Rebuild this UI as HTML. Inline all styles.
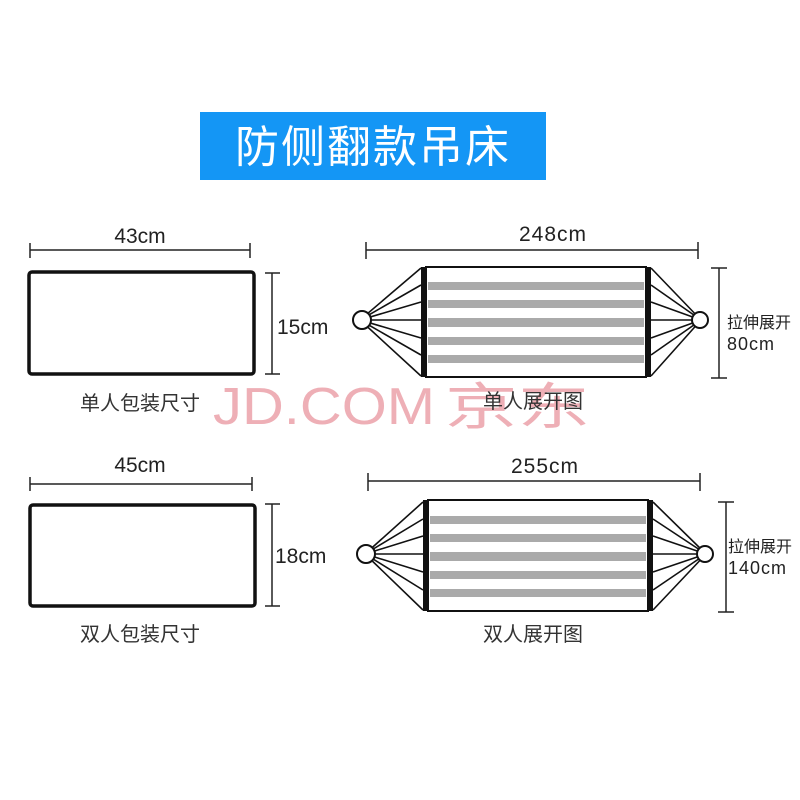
<!DOCTYPE html>
<html><head><meta charset="utf-8"><style>
html,body{margin:0;padding:0;background:#fff}
svg{display:block}
text{font-family:"Liberation Sans","Noto Sans CJK SC",sans-serif}
</style></head><body>
<svg width="800" height="800" viewBox="0 0 800 800" xmlns="http://www.w3.org/2000/svg">
<rect x="200" y="112" width="346" height="68" fill="#1496f5"/>
<text x="373" y="162" font-size="44" fill="#fff" text-anchor="middle" font-family="Noto Sans CJK SC,sans-serif" letter-spacing="2">防侧翻款吊床</text>

<!-- watermark -->
<g fill="#eca6ae" fill-opacity="0.9">
<text x="213" y="424" font-size="52" textLength="222" lengthAdjust="spacingAndGlyphs">JD.COM</text>
<text x="445" y="424" font-size="50" font-family="Noto Sans CJK SC,sans-serif" textLength="145" lengthAdjust="spacingAndGlyphs">京东</text>
</g>

<g stroke="#222" stroke-width="1.5" fill="none">
<line x1="30" y1="250" x2="250" y2="250"/><line x1="30" y1="243" x2="30" y2="258"/><line x1="250" y1="243" x2="250" y2="258"/>
<line x1="272" y1="273" x2="272" y2="374"/><line x1="265" y1="273" x2="280" y2="273"/><line x1="265" y1="374" x2="280" y2="374"/>
<line x1="30" y1="484" x2="252" y2="484"/><line x1="30" y1="477" x2="30" y2="491"/><line x1="252" y1="477" x2="252" y2="491"/>
<line x1="272" y1="504" x2="272" y2="606"/><line x1="265" y1="504" x2="280" y2="504"/><line x1="265" y1="606" x2="280" y2="606"/>
</g>
<rect x="29" y="272" width="225" height="102" rx="3" fill="none" stroke="#111" stroke-width="3.5"/>
<rect x="30" y="505" width="225" height="101" rx="3" fill="none" stroke="#111" stroke-width="3.5"/>
<g font-size="21" fill="#222">
<text x="140" y="243" text-anchor="middle">43cm</text>
<text x="277" y="334">15cm</text>
<text x="140" y="472" text-anchor="middle">45cm</text>
<text x="275" y="563">18cm</text>
</g>
<g font-size="20" fill="#333" font-family="Noto Sans CJK SC,sans-serif">
<text x="140" y="410" text-anchor="middle">单人包装尺寸</text>
<text x="140" y="641" text-anchor="middle">双人包装尺寸</text>
<text x="533" y="408" text-anchor="middle">单人展开图</text>
<text x="533" y="641" text-anchor="middle">双人展开图</text>
</g>

<g stroke="#222" stroke-width="1.5" fill="none">
<line x1="366" y1="250" x2="698" y2="250"/><line x1="366" y1="242" x2="366" y2="259"/><line x1="698" y1="242" x2="698" y2="259"/>
<line x1="719" y1="268" x2="719" y2="378"/><line x1="711" y1="268" x2="727" y2="268"/><line x1="711" y1="378" x2="727" y2="378"/>
<line x1="368" y1="481" x2="700" y2="481"/><line x1="368" y1="473" x2="368" y2="491"/><line x1="700" y1="473" x2="700" y2="491"/>
<line x1="726" y1="502" x2="726" y2="612"/><line x1="718" y1="502" x2="734" y2="502"/><line x1="718" y1="612" x2="734" y2="612"/>
</g>
<g fill="#222">
<text x="553" y="241" font-size="21" text-anchor="middle" letter-spacing="1">248cm</text>
<text x="727" y="328" font-size="16" font-family="Noto Sans CJK SC,sans-serif">拉伸展开</text>
<text x="727" y="350" font-size="18" letter-spacing="1">80cm</text>
<text x="545" y="473" font-size="21" text-anchor="middle" letter-spacing="1">255cm</text>
<text x="728" y="552" font-size="16" font-family="Noto Sans CJK SC,sans-serif">拉伸展开</text>
<text x="728" y="574" font-size="18" letter-spacing="1">140cm</text>
</g>

<g>
<rect x="426" y="267" width="220" height="110" fill="#fff" stroke="#111" stroke-width="2"/>
<g fill="#aaa">
<rect x="428" y="282" width="216" height="8"/><rect x="428" y="300" width="216" height="8"/>
<rect x="428" y="318" width="216" height="9"/><rect x="428" y="337" width="216" height="8"/>
<rect x="428" y="355" width="216" height="8"/>
</g>
<rect x="421" y="267" width="6" height="110" fill="#111"/>
<rect x="645" y="267" width="6" height="110" fill="#111"/>
<g stroke="#111" stroke-width="1.6">
<line x1="360" y1="320" x2="421" y2="268"/><line x1="360" y1="320" x2="421" y2="285"/>
<line x1="360" y1="320" x2="421" y2="302"/><line x1="360" y1="320" x2="421" y2="320"/>
<line x1="360" y1="320" x2="421" y2="338"/><line x1="360" y1="320" x2="421" y2="355"/>
<line x1="360" y1="320" x2="421" y2="376"/>
<line x1="701" y1="320" x2="651" y2="268"/><line x1="701" y1="320" x2="651" y2="285"/>
<line x1="701" y1="320" x2="651" y2="302"/><line x1="701" y1="320" x2="651" y2="320"/>
<line x1="701" y1="320" x2="651" y2="338"/><line x1="701" y1="320" x2="651" y2="355"/>
<line x1="701" y1="320" x2="651" y2="376"/>
</g>
<circle cx="362" cy="320" r="9" fill="#fff" stroke="#111" stroke-width="2"/>
<circle cx="700" cy="320" r="8" fill="#fff" stroke="#111" stroke-width="2"/>
</g>

<g>
<rect x="428" y="500" width="220" height="111" fill="#fff" stroke="#111" stroke-width="2"/>
<g fill="#aaa">
<rect x="430" y="516" width="216" height="8"/><rect x="430" y="534" width="216" height="8"/>
<rect x="430" y="552" width="216" height="9"/><rect x="430" y="571" width="216" height="8"/>
<rect x="430" y="589" width="216" height="8"/>
</g>
<rect x="423" y="500" width="6" height="111" fill="#111"/>
<rect x="647" y="500" width="6" height="111" fill="#111"/>
<g stroke="#111" stroke-width="1.6">
<line x1="365" y1="554" x2="423" y2="502"/><line x1="365" y1="554" x2="423" y2="519"/>
<line x1="365" y1="554" x2="423" y2="536"/><line x1="365" y1="554" x2="423" y2="554"/>
<line x1="365" y1="554" x2="423" y2="572"/><line x1="365" y1="554" x2="423" y2="590"/>
<line x1="365" y1="554" x2="423" y2="610"/>
<line x1="706" y1="554" x2="653" y2="502"/><line x1="706" y1="554" x2="653" y2="519"/>
<line x1="706" y1="554" x2="653" y2="536"/><line x1="706" y1="554" x2="653" y2="554"/>
<line x1="706" y1="554" x2="653" y2="572"/><line x1="706" y1="554" x2="653" y2="590"/>
<line x1="706" y1="554" x2="653" y2="610"/>
</g>
<circle cx="366" cy="554" r="9" fill="#fff" stroke="#111" stroke-width="2"/>
<circle cx="705" cy="554" r="8" fill="#fff" stroke="#111" stroke-width="2"/>
</g>
</svg>
</body></html>
